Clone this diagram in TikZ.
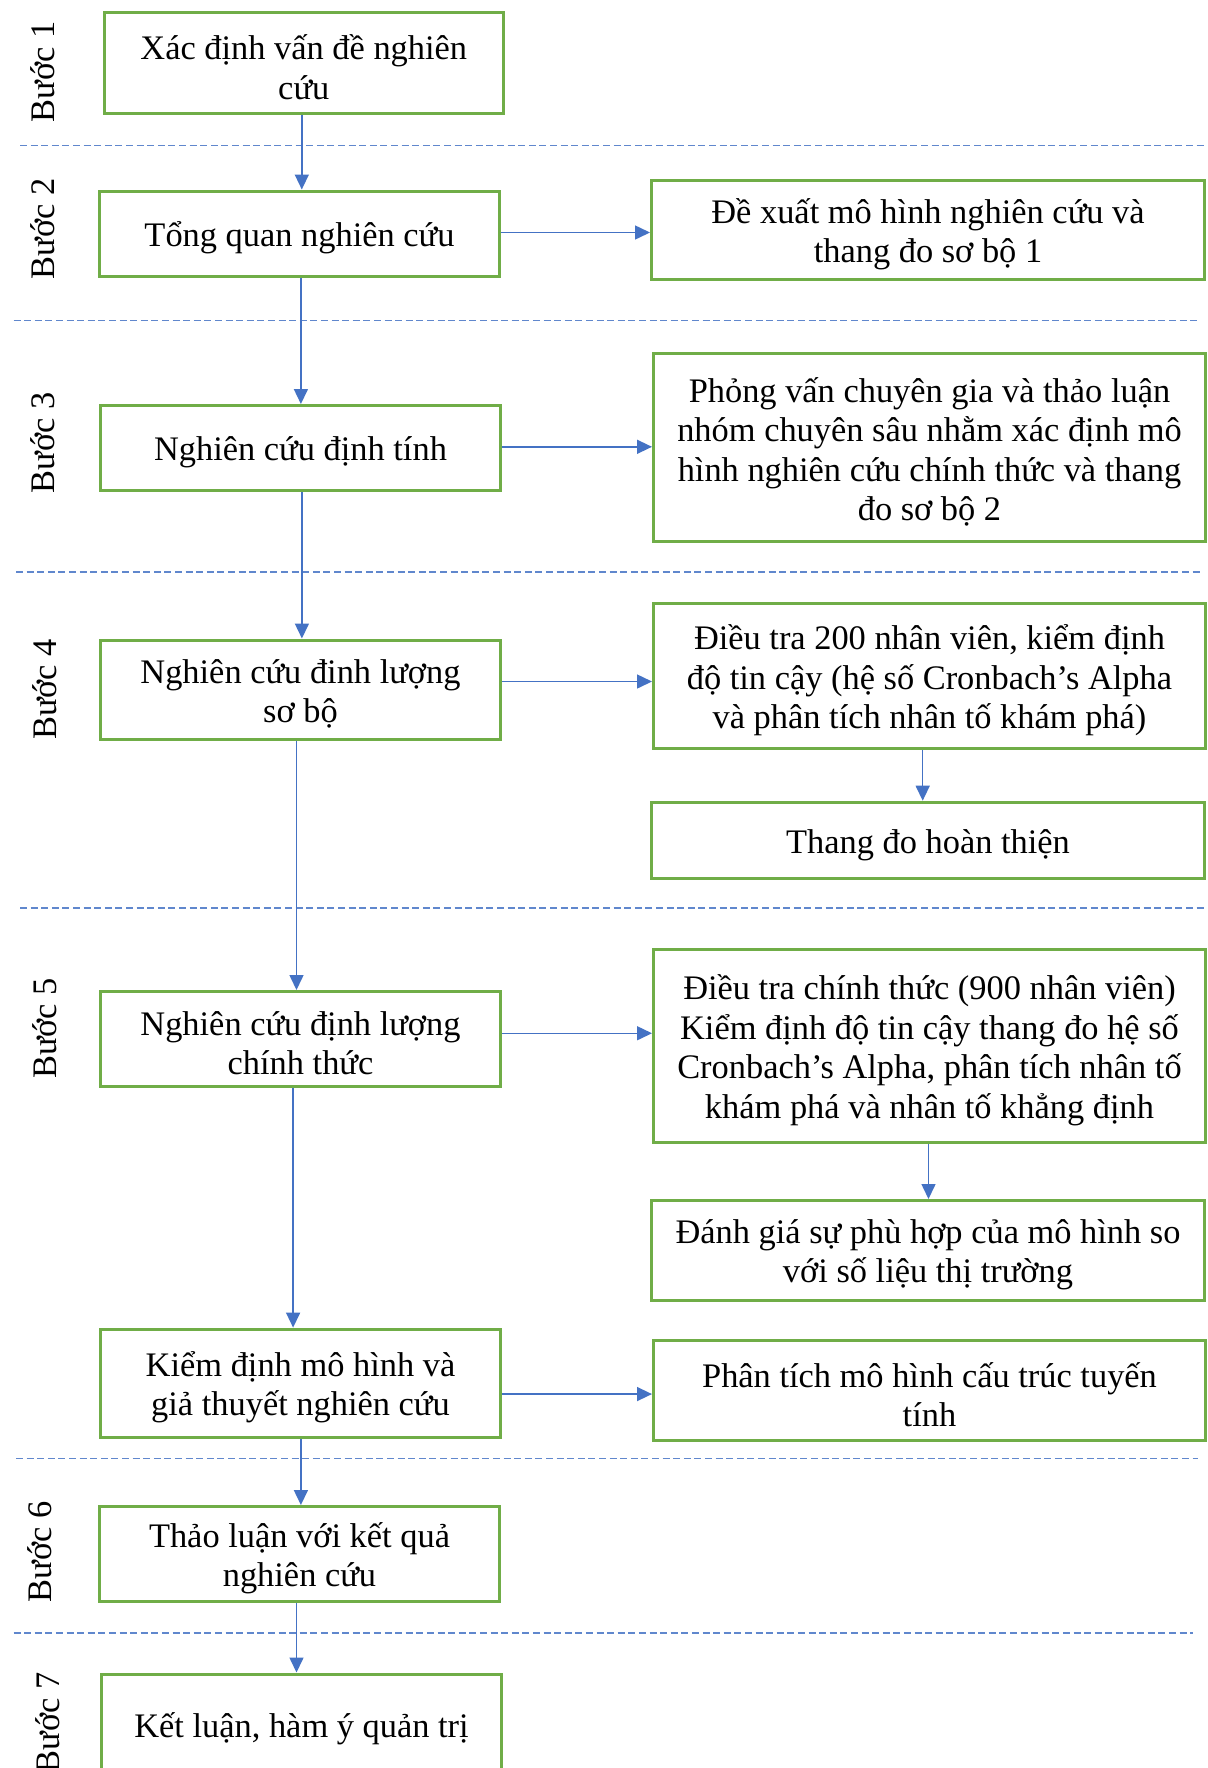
\documentclass[tikz,border=0pt]{standalone}
\usepackage{fontspec}
\setmainfont{Liberation Serif}
\usetikzlibrary{arrows.meta}
\definecolor{boxgreen}{HTML}{70AD47}
\definecolor{linkblue}{HTML}{4472C4}
% box from outer corner (x1,y1) to (x2,y2), pixel units, y downward;
% the text is set a little below the geometric centre
\newcommand{\stepnode}[6]{%
  \node[box, minimum width={(#4-#2-3)*0.5pt}, minimum height={(#5-#3-3)*0.5pt}]
    (#1) at ({(#2+#4)/2},{(#3+#5)/2}) {};
  \node[boxtext] (#1-t) at ([yshift=-2.2pt]#1.center) {#6};}
\tikzset{
  box/.style={draw=boxgreen, line width=1.5pt, fill=white, inner sep=0pt},
  boxtext/.style={inner sep=0pt, align=center,
    font=\fontsize{17.2pt}{19.75pt}\selectfont},
  steplabel/.style={rotate=90, inner sep=0pt,
    font=\fontsize{17.2pt}{19.75pt}\selectfont},
  arr/.style={draw=linkblue, line width=0.75pt,
    -{Triangle[length=7.5pt,width=7pt]}},
  sep/.style={draw=linkblue!85, line width=0.7pt, dash pattern=on 3.5pt off 1.8pt}
}
\begin{document}
\begin{tikzpicture}[x=0.5pt, y=-0.5pt]
\clip (0,0) rectangle (1208,1768);
\fill[white] (0,0) rectangle (1208,1768);

% separators between the steps
\draw[sep] (20,145.5) -- (1205,145.5);
\draw[sep] (13.5,320.5) -- (1198,320.5);
\draw[sep] (16,572) -- (1201,572);
\draw[sep] (20,908) -- (1205,908);
\draw[sep] (16,1458.5) -- (1198,1458.5);
\draw[sep] (13.5,1633) -- (1193,1633);

% step labels
\node[steplabel] (s1) at (43,72) {Bước 1};
\node[steplabel] (s2) at (43,229) {Bước 2};
\node[steplabel] (s3) at (43,443) {Bước 3};
\node[steplabel] (s4) at (45,689.5) {Bước 4};
\node[steplabel] (s5) at (45,1028.5) {Bước 5};
\node[steplabel] (s6) at (40,1552) {Bước 6};
\node[steplabel] (s7) at (48,1723) {Bước 7};

% main column
\stepnode{b1}{102.6}{11.3}{505}{114.5}{Xác định vấn đề nghiên\\cứu}
\stepnode{b2}{98}{189.5}{501}{277.5}{Tổng quan nghiên cứu}
\stepnode{b3}{99}{404}{502}{492}{Nghiên cứu định tính}
\stepnode{b4}{99}{638.5}{502}{740.5}{Nghiên cứu đinh lượng\\sơ bộ}
\stepnode{b5}{99}{990}{502}{1087.5}{Nghiên cứu định lượng\\chính thức}
\stepnode{b5b}{99}{1327.6}{502}{1438.5}{Kiểm định mô hình và\\giả thuyết nghiên cứu}
\stepnode{b6}{98}{1505}{501}{1602.5}{Thảo luận với kết quả\\nghiên cứu}
\stepnode{b7}{100}{1672.5}{503}{1776}{Kết luận, hàm ý quản trị}

% side column
\stepnode{r2}{650}{179}{1206}{281}{Đề xuất mô hình nghiên cứu và\\thang đo sơ bộ 1}
\stepnode{r3}{652}{352}{1207}{542.6}{Phỏng vấn chuyên gia và thảo luận\\nhóm chuyên sâu nhằm xác định mô\\hình nghiên cứu chính thức và thang\\đo sơ bộ 2}
\stepnode{r4}{652}{602}{1207}{750}{Điều tra 200 nhân viên, kiểm định\\độ tin cậy (hệ số Cronbach’s Alpha\\và phân tích nhân tố khám phá)}
\stepnode{r4b}{650}{800.7}{1206}{880}{Thang đo hoàn thiện}
\stepnode{r5}{652}{948}{1207}{1144}{Điều tra chính thức (900 nhân viên)\\Kiểm định độ tin cậy thang đo hệ số\\Cronbach’s Alpha, phân tích nhân tố\\khám phá và nhân tố khẳng định}
\stepnode{r5b}{650}{1199}{1206}{1302}{Đánh giá sự phù hợp của mô hình so\\với số liệu thị trường}
\stepnode{r5c}{652}{1339}{1207}{1441.6}{Phân tích mô hình cấu trúc tuyến\\tính}

% vertical flow
\draw[arr] ([xshift=-1pt]b1.south) -- ([xshift=-1pt]b1.south |- b2.north);
\draw[arr] ([xshift=0.7pt]b2.south) -- ([xshift=0.7pt]b2.south |- b3.north);
\draw[arr] ([xshift=0.7pt]b3.south) -- ([xshift=0.7pt]b3.south |- b4.north);
\draw[arr] ([xshift=-2pt]b4.south) -- ([xshift=-2pt]b4.south |- b5.north);
\draw[arr] ([xshift=-3.7pt]b5.south) -- ([xshift=-3.7pt]b5.south |- b5b.north);
\draw[arr] ([xshift=0.2pt]b5b.south) -- ([xshift=0.2pt]b5b.south |- b6.north);
\draw[arr] ([xshift=-1.5pt]b6.south) -- ([xshift=-1.5pt]b6.south |- b7.north);
\draw[arr] ([xshift=-3.4pt]r4.south) -- ([xshift=-3.4pt]r4.south |- r4b.north);
\draw[arr] ([xshift=-0.5pt]r5.south) -- ([xshift=-0.5pt]r5.south |- r5b.north);

% horizontal flow
\draw[arr] ([yshift=0.5pt]b2.east) -- ([yshift=0.5pt]b2.east -| r2.west);
\draw[arr] ([yshift=0.6pt]b3.east) -- ([yshift=0.6pt]b3.east -| r3.west);
\draw[arr] ([yshift=4pt]b4.east) -- ([yshift=4pt]b4.east -| r4.west);
\draw[arr] ([yshift=2.75pt]b5.east) -- ([yshift=2.75pt]b5.east -| r5.west);
\draw[arr] ([yshift=-5.5pt]b5b.east) -- ([yshift=-5.5pt]b5b.east -| r5c.west);
\end{tikzpicture}
\end{document}
